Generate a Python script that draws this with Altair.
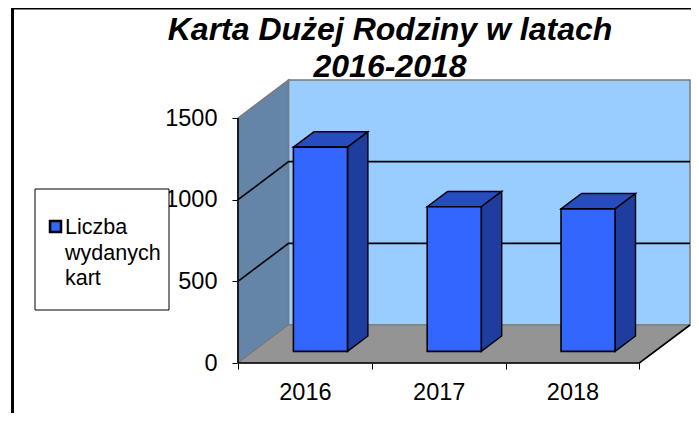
import json
import altair as alt
import pandas as pd

# --- values
YEARS = ["2016", "2017", "2018"]
ISSUED = [1250, 885, 872]
Y_TICKS = [0, 500, 1000, 1500]
GRID_VALUES = [500, 1000]
SERIES_NAME = "Liczba|wydanych|kart"
TITLE_LINES = ["Karta Dużej Rodziny w latach", "2016-2018"]

# --- oblique projection of the 3-D look, in data units
DEPTH_X = 0.378      # categories
DEPTH_Y = 232.7      # counts
BAR_WIDTH = 0.404    # categories
BAR_FRONT = 0.307    # depth fraction
BAR_BACK = 0.711
N = len(YEARS)
Y_MAX = max(Y_TICKS)
FONT = "Liberation Sans"

BLUE_FRONT = "#3366FF"
BLUE_SIDE = "#1E3D9E"
BLUE_TOP = "#274CC0"
WALL_BACK = "#99CCFF"
WALL_SIDE = "#6484A8"
FLOOR = "#949494"
EDGE = "#7A7A7A"

xs = alt.Scale(domain=[0, N + DEPTH_X], nice=False, zero=False)
ys = alt.Scale(domain=[0, Y_MAX + DEPTH_Y], nice=False, zero=False)

x_label_expr = "%s[datum.value]" % json.dumps(YEARS + [""])
X_AXIS = alt.Axis(values=list(range(N + 1)), labelExpr=x_label_expr, labelOffset=66.9,
                  domain=False, grid=False, tickSize=6, tickColor="#000000", tickWidth=1,
                  labelFont=FONT, labelFontSize=23.5, labelColor="#000000", labelPadding=11,
                  labelAngle=0, labelFlush=False, labelOverlap=False)
Y_AXIS = alt.Axis(values=Y_TICKS, format="d", domain=False, grid=False, tickSize=6, tickColor="#000000", tickWidth=1,
                  labelFont=FONT, labelFontSize=23.5, labelColor="#000000", labelPadding=15,
                  labelFlush=False, labelOverlap=False)


def X(f="x"):
    return alt.X(f"{f}:Q", scale=xs, axis=X_AXIS, title=None)


def Y(f="y"):
    return alt.Y(f"{f}:Q", scale=ys, axis=Y_AXIS, title=None)


one = pd.DataFrame({"a": [0]})

# walls and floor
back_wall = alt.Chart(pd.DataFrame({"x": [DEPTH_X], "x2": [N + DEPTH_X], "y": [DEPTH_Y], "y2": [Y_MAX + DEPTH_Y]})).mark_rect(
    fill=WALL_BACK, stroke=EDGE, strokeWidth=1.5
).encode(x=X(), x2="x2:Q", y=Y(), y2="y2:Q")

side_wall = alt.Chart(pd.DataFrame({"x": [0, DEPTH_X], "y": [0, DEPTH_Y], "y2": [Y_MAX, Y_MAX + DEPTH_Y]})).mark_area(
    fill=WALL_SIDE, stroke=EDGE, strokeWidth=1.5
).encode(x=X(), y=Y(), y2="y2:Q")

floor = alt.Chart(pd.DataFrame({"y": [0, DEPTH_Y], "x": [0, DEPTH_X], "x2": [N, N + DEPTH_X]})).mark_area(
    orient="horizontal", fill=FLOOR, stroke=EDGE, strokeWidth=1
).encode(y=Y(), x=X(), x2="x2:Q")

# gridlines bent round the wall corner, and the dark edges
grid_rows = []
for v in GRID_VALUES:
    grid_rows += [
        {"k": f"g{v}", "o": 0, "x": 0, "y": v},
        {"k": f"g{v}", "o": 1, "x": DEPTH_X, "y": v + DEPTH_Y},
        {"k": f"g{v}", "o": 2, "x": N + DEPTH_X, "y": v + DEPTH_Y},
    ]
grid_rows += [
    {"k": "left", "o": 0, "x": 0, "y": 0},
    {"k": "left", "o": 1, "x": 0, "y": Y_MAX},
    {"k": "front", "o": 0, "x": 0, "y": 0},
    {"k": "front", "o": 1, "x": N, "y": 0},
    {"k": "front", "o": 2, "x": N + DEPTH_X, "y": DEPTH_Y},
]
lines = alt.Chart(pd.DataFrame(grid_rows)).mark_line(color="#000000", strokeWidth=1.6).encode(
    x=X(), y=Y(), detail="k:N", order="o:Q"
)

# bars
front_rows, side_rows, top_rows = [], [], []
for i, (yr, val) in enumerate(zip(YEARS, ISSUED)):
    left = i + (1 - BAR_WIDTH) / 2
    fx, fy = BAR_FRONT * DEPTH_X, BAR_FRONT * DEPTH_Y
    bx, by = BAR_BACK * DEPTH_X, BAR_BACK * DEPTH_Y
    front_rows.append({"year": yr, "x": left + fx, "x2": left + BAR_WIDTH + fx, "y": fy, "y2": val + fy})
    side_rows += [
        {"year": yr, "x": left + BAR_WIDTH + fx, "y": fy, "y2": val + fy},
        {"year": yr, "x": left + BAR_WIDTH + bx, "y": by, "y2": val + by},
    ]
    top_rows += [
        {"year": yr, "y": val + fy, "x": left + fx, "x2": left + BAR_WIDTH + fx},
        {"year": yr, "y": val + by, "x": left + bx, "x2": left + BAR_WIDTH + bx},
    ]

bar_top = alt.Chart(pd.DataFrame(top_rows)).mark_area(
    orient="horizontal", fill=BLUE_TOP, stroke="#000000", strokeWidth=1.4
).encode(y=Y(), x=X(), x2="x2:Q", detail="year:N")
bar_side = alt.Chart(pd.DataFrame(side_rows)).mark_area(
    fill=BLUE_SIDE, stroke="#000000", strokeWidth=1.4
).encode(x=X(), y=Y(), y2="y2:Q", detail="year:N")
bar_front = alt.Chart(pd.DataFrame(front_rows)).mark_rect(
    fill=BLUE_FRONT, stroke="#000000", strokeWidth=1.6
).encode(x=X(), x2="x2:Q", y=Y(), y2="y2:Q")

# legend box (drawn above the axis labels, as in the source)
legend_box = alt.Chart(one).mark_rect(fill="#FFFFFF", stroke="#000000", strokeWidth=1).encode(
    x=alt.value(-203), x2=alt.value(-69), y=alt.value(109), y2=alt.value(230)
)
legend_swatch = alt.Chart(one).mark_rect(fill=BLUE_FRONT, stroke="#000000", strokeWidth=2.5).encode(
    x=alt.value(-188), x2=alt.value(-177), y=alt.value(141), y2=alt.value(152)
)
legend_text = alt.Chart(pd.DataFrame({"t": [SERIES_NAME]})).mark_text(
    font=FONT, fontSize=21.5, align="left", baseline="alphabetic", lineBreak="|", lineHeight=25.5, color="#000000"
).encode(x=alt.value(-173), y=alt.value(154), text="t:N")

# outer frame of the picture
frame_left = alt.Chart(one).mark_rule(color="#000000", strokeWidth=3).encode(
    x=alt.value(-225.5), y=alt.value(-72), y2=alt.value(333)
)
frame_top = alt.Chart(one).mark_rule(color="#000000", strokeWidth=2).encode(
    x=alt.value(-227), x2=alt.value(453), y=alt.value(-71.5)
)

chart = alt.layer(
    side_wall, back_wall, floor, lines, bar_top, bar_side, bar_front,
    legend_box, legend_swatch, legend_text, frame_left, frame_top,
).properties(
    width=452,
    height=283,
    padding={"left": 230, "top": 72, "right": 1, "bottom": 50},
    autosize=alt.AutoSizeParams(type="none"),
    title=alt.TitleParams(
        text=TITLE_LINES, font=FONT, fontSize=32, fontStyle="italic", fontWeight="bold",
        color="#000000", anchor="middle", dx=-74, offset=-77, lineHeight=36.5,
    ),
).configure_view(stroke=None)

chart.save("out.html", embed_options={"renderer": "svg", "actions": False})
